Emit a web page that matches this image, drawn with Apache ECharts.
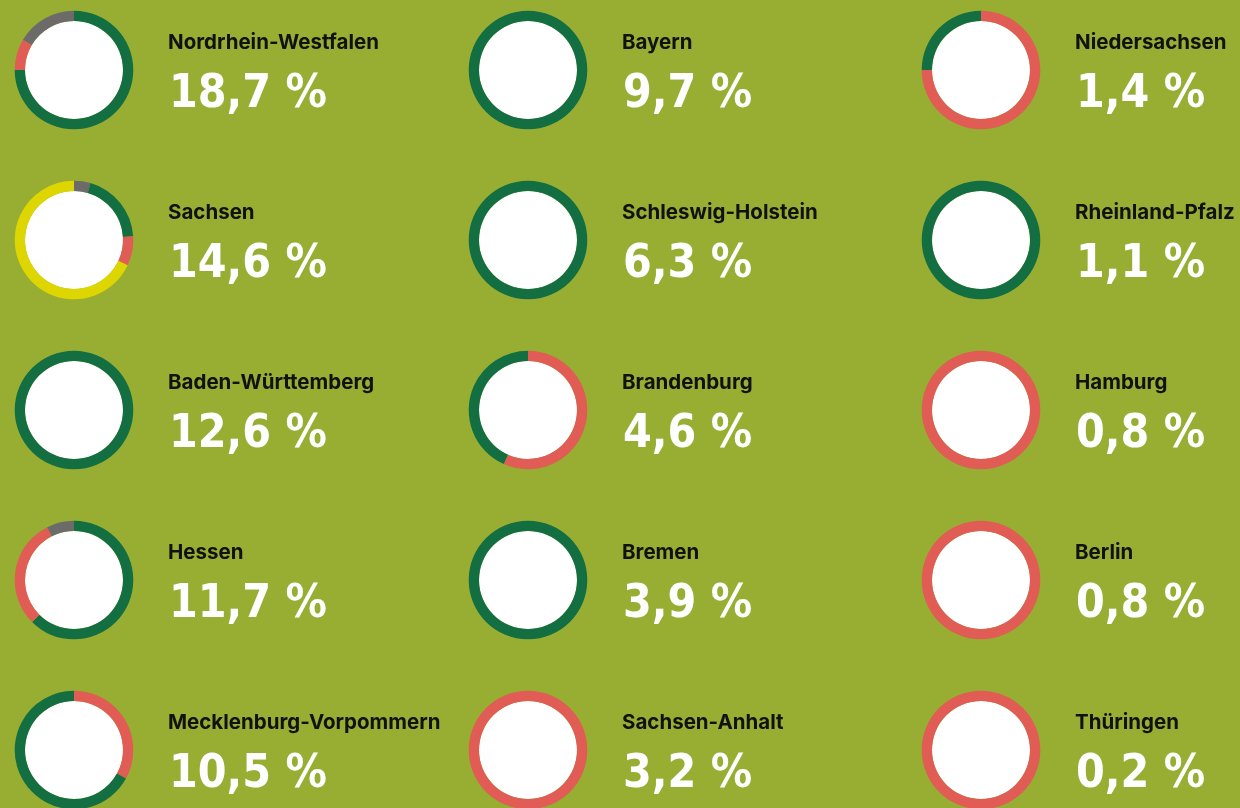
<!DOCTYPE html>
<html>
<head>
<meta charset="utf-8">
<script src="https://cdn.jsdelivr.net/npm/echarts@6/dist/echarts.min.js"></script>
<style>
  html, body { margin: 0; padding: 0; background: #97AE33; }
  #chart { width: 1240px; height: 808px; }
</style>
</head>
<body>
<div id="chart"></div>
<script>
// States in reading order (column by column)
const states = [
    'Nordrhein-Westfalen', 'Sachsen', 'Baden-Württemberg', 'Hessen', 'Mecklenburg-Vorpommern',
    'Bayern', 'Schleswig-Holstein', 'Brandenburg', 'Bremen', 'Sachsen-Anhalt',
    'Niedersachsen', 'Rheinland-Pfalz', 'Hamburg', 'Berlin', 'Thüringen',
];
const shares = [18.7, 14.6, 12.6, 11.7, 10.5, 9.7, 6.3, 4.6, 3.9, 3.2, 1.4, 1.1, 0.8, 0.8, 0.2];

// Ring segments, clockwise from 12 o'clock: [colour key, percent of ring]
const rings = [
    [['green', 75], ['red', 8.5], ['grey', 16.5]],
    [['grey', 4.5], ['green', 19.5], ['red', 8], ['yellow', 68]],
    [['green', 100]],
    [['green', 62.5], ['red', 30], ['grey', 7.5]],
    [['red', 33], ['green', 67]],
    [['green', 100]],
    [['green', 100]],
    [['red', 56.7], ['green', 43.3]],
    [['green', 100]],
    [['red', 100]],
    [['red', 75], ['green', 25]],
    [['green', 100]],
    [['red', 100]],
    [['red', 100]],
    [['red', 100]],
];

const COLORS = {
    green: '#136F41',
    red: '#E05C55',
    grey: '#6D6B6A',
    yellow: '#DED600',
};

const ROWS = 5;
const COL_X = [74, 528, 981];
const ROW_Y0 = 70;
const ROW_STEP = 170;
const TEXT_DX = 94;

const chart = echarts.init(document.getElementById('chart'), null, { renderer: 'canvas' });

const series = [];
const graphics = [];

states.forEach((name, i) => {
    const col = Math.floor(i / ROWS);
    const row = i % ROWS;
    const cx = COL_X[col];
    const cy = ROW_Y0 + row * ROW_STEP;

    // white disc inside the ring
    series.push({
        type: 'pie',
        silent: true,
        radius: [0, 49],
        center: [cx, cy],
        label: { show: false },
        labelLine: { show: false },
        emphasis: { disabled: true },
        itemStyle: { color: '#fff', borderWidth: 0 },
        data: [{ value: 1 }],
    });

    series.push({
        type: 'pie',
        name: name,
        silent: true,
        radius: [49, 59.3],
        center: [cx, cy],
        startAngle: 90,
        clockwise: true,
        avoidLabelOverlap: false,
        label: { show: false },
        labelLine: { show: false },
        emphasis: { disabled: true },
        data: rings[i].map(([key, v]) => ({
            value: v,
            itemStyle: { color: COLORS[key], borderWidth: 0 },
        })),
    });

    graphics.push({
        type: 'text',
        left: cx + TEXT_DX,
        top: cy - 38,
        style: {
            text: name,
            fill: '#111',
            font: 'bold 20.5px Inter, "Noto Sans", sans-serif',
        },
    });
    graphics.push({
        type: 'text',
        left: cx + TEXT_DX + 1,
        top: cy + 2,
        style: {
            text: shares[i].toFixed(1).replace('.', ',') + ' %',
            fill: '#fff',
            font: 'bold 46px "DejaVu Sans Condensed", "DejaVu Sans", sans-serif',
        },
    });
});

chart.setOption({
    backgroundColor: '#97AE33',
    animation: false,
    series: series,
    graphic: graphics,
});
</script>
</body>
</html>
